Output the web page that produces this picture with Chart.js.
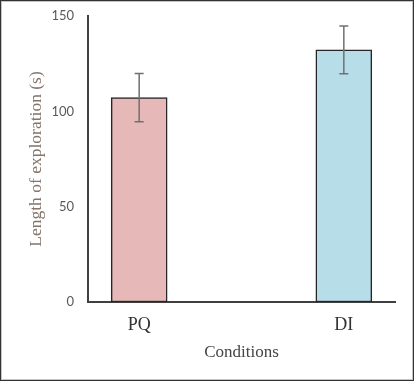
<!DOCTYPE html>
<html>
<head>
<meta charset="utf-8">
<script src="https://cdn.jsdelivr.net/npm/chart.js@4.4.1/dist/chart.umd.min.js"></script>
<style>
  html, body { margin: 0; padding: 0; background: #fff; }
  #wrap { position: relative; width: 415px; height: 381px; }
  #c { position: absolute; left: 0; top: 0; }
  #frame { position: absolute; left: 0; top: 0; width: 414px; height: 381px; box-sizing: border-box;
           border: 1px solid #333; box-shadow: inset 0 0 0 1px #c4c4c4; pointer-events: none; }
</style>
</head>
<body>
<div id="wrap">
  <canvas id="c" width="415" height="381"></canvas>
  <div id="frame"></div>
</div>
<script>
const categories = ["PQ", "DI"];
const means = [107.2, 132.2];
const errors = [12.7, 12.5];
const barColors = ["#e6b9b8", "#b7dee8"];
const yTicks = [0, 50, 100, 150];

const errorBarPlugin = {
  id: 'errorBars',
  afterDatasetsDraw(chart) {
    const ctx = chart.ctx;
    const meta = chart.getDatasetMeta(0);
    const ys = chart.scales.y;
    ctx.save();
    ctx.strokeStyle = '#707070';
    ctx.lineWidth = 1.5;
    meta.data.forEach((bar, i) => {
      const x = bar.x;
      const yTop = ys.getPixelForValue(means[i] + errors[i]);
      const yBot = ys.getPixelForValue(means[i] - errors[i]);
      ctx.beginPath();
      ctx.moveTo(x, yTop); ctx.lineTo(x, yBot);
      ctx.moveTo(x - 4.5, yTop); ctx.lineTo(x + 4.5, yTop);
      ctx.moveTo(x - 4.5, yBot); ctx.lineTo(x + 4.5, yBot);
      ctx.stroke();
    });
    ctx.restore();
  }
};

new Chart(document.getElementById('c'), {
  type: 'bar',
  data: {
    datasets: [{
      data: categories.map((c, i) => ({ x: i, y: means[i] })),
      backgroundColor: barColors,
      borderColor: '#262626',
      borderWidth: 1.5,
      borderSkipped: false,
      barThickness: 56
    }]
  },
  options: {
    responsive: false,
    animation: false,
    events: [],
    layout: { padding: { left: 0, top: 16, right: 20, bottom: 0 } },
    plugins: { legend: { display: false }, tooltip: { enabled: false } },
    scales: {
      x: {
        type: 'linear',
        offset: false,
        min: -0.25,
        max: 1.25,
        grid: { display: false, drawTicks: false },
        border: { display: true, color: '#404040', width: 2 },
        afterBuildTicks: (s) => { s.ticks = categories.map((c, i) => ({ value: i })); },
        afterFit: (s) => { s.height = 79; s.paddingLeft = 0; s.paddingRight = 0; },
        ticks: {
          padding: 12,
          autoSkip: false,
          maxRotation: 0,
          color: '#333333',
          font: { family: '"Liberation Serif", "Times New Roman", serif', size: 18 },
          callback: (v) => categories[v] !== undefined ? categories[v] : ''
        },
        title: {
          display: true,
          text: 'Conditions',
          color: '#454545',
          font: { family: '"Liberation Serif", "Times New Roman", serif', size: 17 },
          padding: { top: 18, bottom: 18 }
        }
      },
      y: {
        min: 0,
        max: 150,
        grid: { display: false, drawTicks: false },
        border: { display: true, color: '#404040', width: 2 },
        afterBuildTicks: (s) => { s.ticks = yTicks.map(v => ({ value: v })); },
        afterFit: (s) => { s.width = 88; s.paddingTop = 0; s.paddingBottom = 0; },
        ticks: {
          padding: 14,
          color: '#595959',
          font: { family: 'Lato, "Open Sans", sans-serif', size: 13 }
        },
        title: {
          display: true,
          text: 'Length of exploration (s)',
          color: '#84756d',
          font: { family: '"Liberation Serif", "Times New Roman", serif', size: 17.5 },
          padding: { top: 26, bottom: 26 }
        }
      }
    }
  },
  plugins: [errorBarPlugin]
});
</script>
</body>
</html>
